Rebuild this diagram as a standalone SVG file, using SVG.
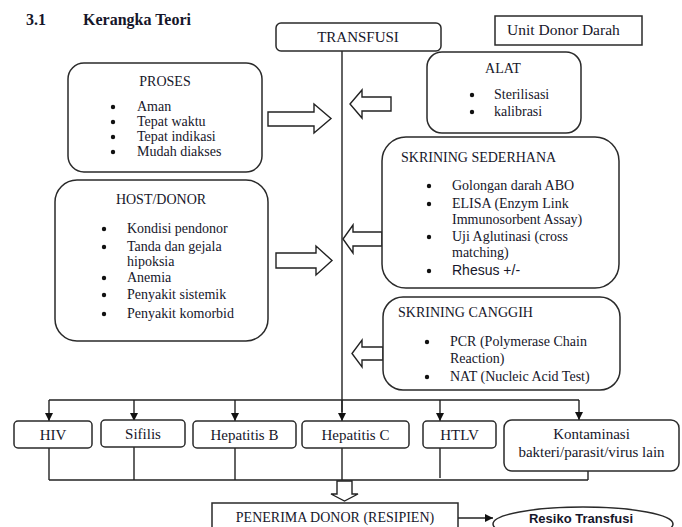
<svg xmlns="http://www.w3.org/2000/svg" width="682" height="527" viewBox="0 0 682 527">
<style>
text{font-family:"Liberation Serif","Times New Roman",serif;fill:#16162a;font-size:14px}
.t15{font-size:15px}
.c{text-anchor:middle}
.sans{font-family:"Liberation Sans",Arial,sans-serif}
.box{fill:#fff;stroke:#2a2a2a;stroke-width:1.5}
.ln{fill:none;stroke:#222;stroke-width:1.4}
.hol{fill:#fff;stroke:#222;stroke-width:1.4;stroke-linejoin:miter}
.dot{fill:#111}
</style>
<defs>
<marker id="ah" viewBox="0 0 10 10" refX="10" refY="5" markerWidth="8" markerHeight="8" markerUnits="userSpaceOnUse" orient="auto">
<path d="M0,0 L10,5 L0,10 Z" fill="#111"/>
</marker>
</defs>
<rect width="682" height="527" fill="#fff"/>

<g id="title">
<text x="26" y="25" style="font-weight:bold;font-size:16px">3.1</text>
<text x="83" y="25" style="font-weight:bold;font-size:16px">Kerangka Teori</text>
</g>

<g id="connectors">
<line class="ln" x1="342" y1="50" x2="342" y2="412"/>
<line class="ln" x1="49" y1="400" x2="579" y2="400"/>
<line class="ln" x1="49" y1="400" x2="49" y2="421" marker-end="url(#ah)"/>
<line class="ln" x1="134" y1="400" x2="134" y2="421" marker-end="url(#ah)"/>
<line class="ln" x1="235" y1="400" x2="235" y2="421" marker-end="url(#ah)"/>
<line class="ln" x1="342" y1="400" x2="342" y2="421" marker-end="url(#ah)"/>
<line class="ln" x1="440" y1="400" x2="440" y2="421" marker-end="url(#ah)"/>
<line class="ln" x1="579" y1="400" x2="579" y2="420" marker-end="url(#ah)"/>
<line class="ln" x1="49" y1="448" x2="49" y2="480"/>
<line class="ln" x1="134" y1="447" x2="134" y2="480"/>
<line class="ln" x1="235" y1="448" x2="235" y2="480"/>
<line class="ln" x1="342" y1="448" x2="342" y2="480"/>
<line class="ln" x1="440" y1="448" x2="440" y2="478"/>
<line class="ln" x1="588" y1="471" x2="588" y2="480"/>
<line class="ln" x1="49" y1="480" x2="588" y2="480"/>
<polygon class="hol" points="337,481 337,494 331,494 344.5,501 358,494 352,494 352,481"/>
<line class="ln" x1="458" y1="518" x2="493" y2="518" marker-end="url(#ah)"/>
<polygon class="hol" points="268,112 314,112 314,104 331,118.5 314,133 314,126 268,126"/>
<polygon class="hol" points="276,253 316,253 316,246 332,260.5 316,275 316,268 276,268"/>
<polygon class="hol" points="391,97 362,97 362,90 350,104 362,118 362,111 391,111"/>
<polygon class="hol" points="382,232 353,232 353,225 343,239 353,253 353,246 382,246"/>
<polygon class="hol" points="383,347 362,347 362,340 352,353.5 362,367 362,360 383,360"/>
</g>

<g id="transfusi">
<rect class="box" x="276" y="23" width="165" height="28" rx="5"/>
<text class="t15 c" x="358" y="42">TRANSFUSI</text>
</g>

<g id="unit-donor">
<rect class="box" x="495" y="16" width="147" height="29"/>
<text x="507" y="35" style="font-size:15.5px">Unit Donor Darah</text>
</g>

<g id="proses">
<rect class="box" x="68" y="63" width="194" height="109" rx="16"/>
<text class="c" x="165" y="86">PROSES</text>
<circle class="dot" cx="113" cy="107" r="2.2"/><text x="137" y="111">Aman</text>
<circle class="dot" cx="113" cy="122" r="2.2"/><text x="137" y="126">Tepat waktu</text>
<circle class="dot" cx="113" cy="137" r="2.2"/><text x="137" y="141">Tepat indikasi</text>
<circle class="dot" cx="113" cy="152" r="2.2"/><text x="137" y="156">Mudah diakses</text>
</g>

<g id="alat">
<rect class="box" x="427" y="52" width="154" height="81" rx="15"/>
<text class="c" x="503" y="73">ALAT</text>
<circle class="dot" cx="472" cy="95" r="2.2"/><text x="494" y="99">Sterilisasi</text>
<circle class="dot" cx="472" cy="112" r="2.2"/><text x="494" y="116">kalibrasi</text>
</g>

<g id="host-donor">
<rect class="box" x="55" y="180" width="213" height="161" rx="22"/>
<text class="c" x="161" y="204">HOST/DONOR</text>
<circle class="dot" cx="104" cy="229" r="2.2"/><text x="127" y="233">Kondisi pendonor</text>
<circle class="dot" cx="104" cy="247" r="2.2"/><text x="127" y="251">Tanda dan gejala</text>
<text x="127" y="266">hipoksia</text>
<circle class="dot" cx="104" cy="278" r="2.2"/><text x="127" y="282">Anemia</text>
<circle class="dot" cx="104" cy="295" r="2.2"/><text x="127" y="299">Penyakit sistemik</text>
<circle class="dot" cx="104" cy="314" r="2.2"/><text x="127" y="318">Penyakit komorbid</text>
</g>

<g id="skrining-sederhana">
<rect class="box" x="382" y="137" width="237" height="151" rx="24"/>
<text x="401" y="162">SKRINING SEDERHANA</text>
<circle class="dot" cx="429" cy="186" r="2.2"/><text x="452" y="190">Golongan darah ABO</text>
<circle class="dot" cx="429" cy="204" r="2.2"/><text x="452" y="208">ELISA (Enzym Link</text>
<text x="452" y="224">Immunosorbent Assay)</text>
<circle class="dot" cx="429" cy="237" r="2.2"/><text x="452" y="241">Uji Aglutinasi (cross</text>
<text x="452" y="257">matching)</text>
<circle class="dot" cx="429" cy="271" r="2.2"/><text class="sans" x="452" y="275">Rhesus +/-</text>
</g>

<g id="skrining-canggih">
<rect class="box" x="383" y="297" width="237" height="93" rx="20"/>
<text x="398" y="317">SKRINING CANGGIH</text>
<circle class="dot" cx="427" cy="342" r="2.2"/><text x="450" y="346">PCR (Polymerase Chain</text>
<text x="450" y="363">Reaction)</text>
<circle class="dot" cx="427" cy="377" r="2.2"/><text x="450" y="381">NAT (Nucleic Acid Test)</text>
</g>

<g id="hiv">
<rect class="box" x="14" y="421" width="78" height="27" rx="4"/>
<text class="t15 c" x="53" y="440">HIV</text>
</g>
<g id="sifilis">
<rect class="box" x="101" y="420" width="84" height="27" rx="4"/>
<text class="t15 c" x="143" y="439">Sifilis</text>
</g>
<g id="hepatitis-b">
<rect class="box" x="193" y="421" width="103" height="27" rx="4"/>
<text class="t15 c" x="244.5" y="440">Hepatitis B</text>
</g>
<g id="hepatitis-c">
<rect class="box" x="302" y="421" width="107" height="27" rx="4"/>
<text class="t15 c" x="355.5" y="440">Hepatitis C</text>
</g>
<g id="htlv">
<rect class="box" x="423" y="421" width="73" height="27" rx="4"/>
<text class="t15 c" x="459.5" y="440">HTLV</text>
</g>
<g id="kontaminasi">
<rect class="box" x="504" y="420" width="175" height="51" rx="8"/>
<text class="t15 c" x="591.5" y="439">Kontaminasi</text>
<text class="t15 c" x="591.5" y="457">bakteri/parasit/virus lain</text>
</g>

<g id="penerima">
<rect class="box" x="212" y="503" width="246" height="40"/>
<text class="c" x="335" y="522">PENERIMA DONOR (RESIPIEN)</text>
</g>

<g id="resiko">
<ellipse class="box" cx="583" cy="524" rx="90" ry="17"/>
<text class="sans c" x="581" y="523" style="font-weight:bold;font-size:13px">Resiko Transfusi</text>
</g>
</svg>
